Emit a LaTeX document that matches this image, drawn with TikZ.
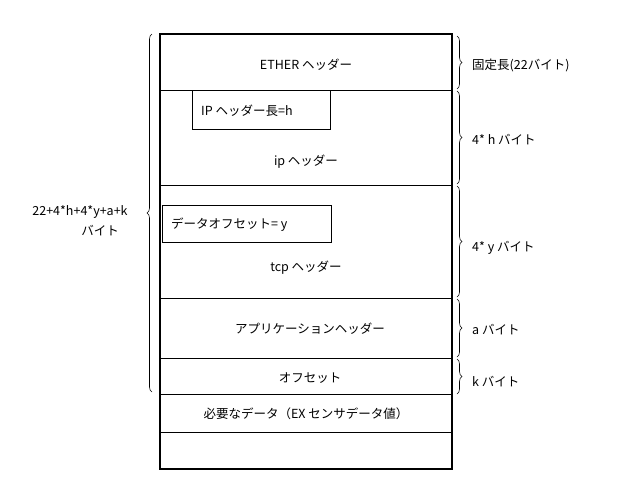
\documentclass[tikz,border=0pt]{standalone}
\usepackage{fontspec}
\setmainfont{Noto Sans CJK JP}
\usetikzlibrary{decorations.pathreplacing}
\begin{document}
\begin{tikzpicture}[x=1pt,y=-1pt,
  lbl/.style={font=\fontsize{12.5}{14}\selectfont,inner sep=0pt},
  rlbl/.style={lbl,anchor=west},
  br/.style={decorate,decoration={brace,amplitude=5pt},line width=0.6pt},
  thin/.style={line width=0.7pt}]
\useasboundingbox (0,0) rectangle (640,499);
\draw[line width=2pt] (160,34) rectangle (452,469);
\foreach \yy in {90,185,298,358,394,432} \draw[thin] (160,\yy) -- (452,\yy);
\draw[thin] (192,90) rectangle (330,129);
\draw[thin] (162,205) rectangle (331,242);
\node[lbl] (eth) at (306,65) {ETHER ヘッダー};
\node[lbl,anchor=west] (iph) at (201,111) {IP ヘッダー長=h};
\node[lbl] (ip) at (306,162) {ip ヘッダー};
\node[lbl,anchor=west] (off) at (171,225) {データオフセット= y};
\node[lbl] (tcp) at (306,268) {tcp ヘッダー};
\node[lbl] (app) at (310,329) {アプリケーションヘッダー};
\node[lbl] (ofs) at (310,378) {オフセット};
\node[lbl] (need) at (306,414) {必要なデータ（EX センサデータ値）};
\draw[br] (457,36) -- (457,89);
\draw[br] (457,91) -- (457,184);
\draw[br] (457,186) -- (457,297);
\draw[br] (457,299) -- (457,357);
\draw[br] (457,359) -- (457,394);
\node[rlbl] at (472,65) {固定長(22バイト)};
\node[rlbl] at (472,140) {4* h バイト};
\node[rlbl] at (472,248) {4* y バイト};
\node[rlbl] at (472,330) {a バイト};
\node[rlbl] at (472,382) {k バイト};
\draw[br] (152,392) -- (152,34);
\node[lbl] at (80,212) {22+4*h+4*y+a+k};
\node[lbl] at (100,231) {バイト};
\end{tikzpicture}
\end{document}
